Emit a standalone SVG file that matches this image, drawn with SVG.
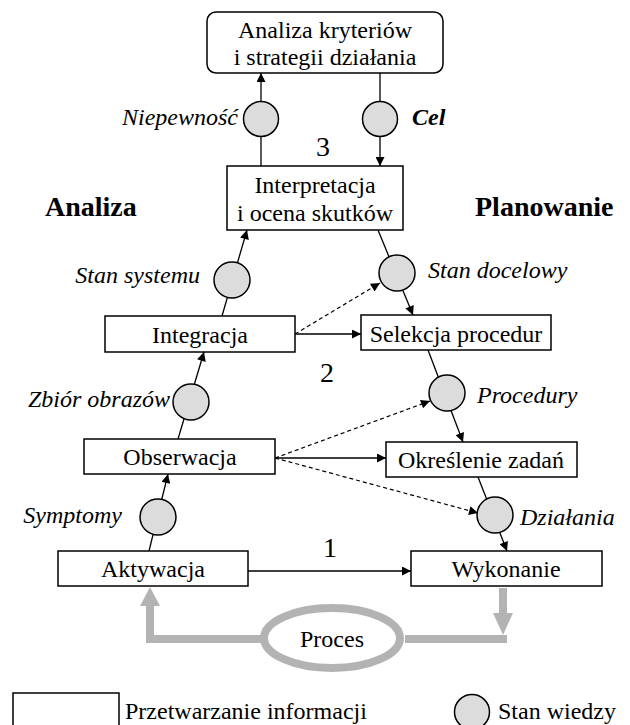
<svg xmlns="http://www.w3.org/2000/svg" width="630" height="725" viewBox="0 0 630 725" font-family="Liberation Serif" font-size="24">
  <style>
    .box { fill: #ffffff; stroke: #000000; stroke-width: 1.5; }
    .state { fill: #dcdcdc; stroke: #000000; stroke-width: 1.5; }
    .mid { text-anchor: middle; }
    .it { font-style: italic; }
    .bold { font-weight: bold; }
    .num { font-size: 28px; }
    .head { font-size: 28px; font-weight: bold; }
    .edge { fill: none; stroke: #000000; stroke-width: 1.3; }
    .dash { fill: none; stroke: #000000; stroke-width: 1.2; stroke-dasharray: 4 3; }
    .flow { fill: none; stroke: #b3b3b3; stroke-width: 8; }
    .flowhead { fill: #b3b3b3; }
  </style>
  <defs>
    <marker id="arrow" viewBox="0 0 10 10" refX="10" refY="5" markerWidth="11" markerHeight="9" markerUnits="userSpaceOnUse" orient="auto">
      <path d="M0,0 L10,5 L0,10 Z" fill="#000000"/>
    </marker>
  </defs>

  <!-- connectors (drawn first so the state circles sit on top) -->
  <g id="connectors">
    <!-- level 3 -->
    <line class="edge" x1="261" y1="166" x2="261" y2="73" marker-end="url(#arrow)"/>
    <line class="edge" x1="380" y1="73" x2="380" y2="166" marker-end="url(#arrow)"/>
    <!-- analysis side -->
    <line class="edge" x1="222" y1="316" x2="247" y2="230" marker-end="url(#arrow)"/>
    <line class="edge" x1="178" y1="439" x2="204" y2="352" marker-end="url(#arrow)"/>
    <line class="edge" x1="149" y1="551" x2="168" y2="474" marker-end="url(#arrow)"/>
    <!-- planning side -->
    <line class="edge" x1="378" y1="230" x2="413" y2="315" marker-end="url(#arrow)"/>
    <line class="edge" x1="428" y1="350" x2="463" y2="442" marker-end="url(#arrow)"/>
    <line class="edge" x1="478" y1="477" x2="507" y2="551" marker-end="url(#arrow)"/>
    <!-- shortcuts -->
    <line class="edge" x1="295" y1="334" x2="361" y2="334" marker-end="url(#arrow)"/>
    <line class="dash" x1="295" y1="334" x2="380" y2="283" marker-end="url(#arrow)"/>
    <line class="edge" x1="275" y1="458" x2="386" y2="458" marker-end="url(#arrow)"/>
    <line class="dash" x1="275" y1="458" x2="430" y2="401" marker-end="url(#arrow)"/>
    <line class="dash" x1="275" y1="458" x2="478" y2="513" marker-end="url(#arrow)"/>
    <line class="edge" x1="248" y1="571" x2="411" y2="571" marker-end="url(#arrow)"/>
    <!-- process loop -->
    <polyline class="flow" points="264,639 150,639 150,604"/>
    <polygon class="flowhead" points="140,606 160,606 150,587"/>
    <polyline class="flow" points="405,639 507,639"/>
    <polyline class="flow" points="503,588 503,614"/>
    <polygon class="flowhead" points="493,613 513,613 503,635"/>
  </g>

  <!-- processing nodes -->
  <g id="analiza-kryteriow">
    <rect class="box" x="207" y="12" width="236" height="61" rx="9"/>
    <text class="mid" x="325" y="38">Analiza kryteriów</text>
    <text class="mid" x="325" y="65">i strategii działania</text>
  </g>
  <g id="interpretacja">
    <rect class="box" x="227" y="166" width="176" height="64"/>
    <text class="mid" x="315" y="193">Interpretacja</text>
    <text class="mid" x="315" y="221">i ocena skutków</text>
  </g>
  <g id="integracja">
    <rect class="box" x="105" y="316" width="190" height="36"/>
    <text class="mid" x="200" y="343">Integracja</text>
  </g>
  <g id="selekcja">
    <rect class="box" x="361" y="315" width="190" height="35"/>
    <text class="mid" x="456" y="342">Selekcja procedur</text>
  </g>
  <g id="obserwacja">
    <rect class="box" x="84" y="439" width="191" height="35"/>
    <text class="mid" x="180" y="465">Obserwacja</text>
  </g>
  <g id="okreslenie">
    <rect class="box" x="386" y="442" width="191" height="35"/>
    <text class="mid" x="481" y="468">Określenie zadań</text>
  </g>
  <g id="aktywacja">
    <rect class="box" x="58" y="551" width="190" height="35"/>
    <text class="mid" x="153" y="577">Aktywacja</text>
  </g>
  <g id="wykonanie">
    <rect class="box" x="411" y="551" width="191" height="35"/>
    <text class="mid" x="506" y="577">Wykonanie</text>
  </g>
  <g id="proces">
    <ellipse cx="332" cy="638" rx="68" ry="30" fill="#ffffff" stroke="#b3b3b3" stroke-width="8"/>
    <text class="mid" x="332" y="647">Proces</text>
  </g>

  <!-- knowledge states -->
  <g id="niepewnosc">
    <circle class="state" cx="261" cy="119" r="17.5"/>
    <text class="it" x="238" y="125" text-anchor="end">Niepewność</text>
  </g>
  <g id="cel">
    <circle class="state" cx="380" cy="119" r="17.5"/>
    <text class="it bold" x="412" y="125">Cel</text>
  </g>
  <g id="stan-systemu">
    <circle class="state" cx="232" cy="280" r="18"/>
    <text class="it" x="200" y="283" text-anchor="end">Stan systemu</text>
  </g>
  <g id="zbior-obrazow">
    <circle class="state" cx="191" cy="402" r="18"/>
    <text class="it" x="170" y="407" text-anchor="end">Zbiór obrazów</text>
  </g>
  <g id="symptomy">
    <circle class="state" cx="158" cy="517" r="18"/>
    <text class="it" x="122" y="523" text-anchor="end">Symptomy</text>
  </g>
  <g id="stan-docelowy">
    <circle class="state" cx="397" cy="273" r="18"/>
    <text class="it" x="428" y="278">Stan docelowy</text>
  </g>
  <g id="procedury">
    <circle class="state" cx="447" cy="393" r="18"/>
    <text class="it" x="477" y="403">Procedury</text>
  </g>
  <g id="dzialania">
    <circle class="state" cx="495" cy="515" r="18"/>
    <text class="it" x="520" y="525">Działania</text>
  </g>

  <!-- section titles and level numbers -->
  <text class="head" x="45" y="216">Analiza</text>
  <text class="head" x="475" y="216">Planowanie</text>
  <text class="num mid" x="323" y="156">3</text>
  <text class="num mid" x="327" y="382">2</text>
  <text class="num mid" x="330" y="557">1</text>

  <!-- legend -->
  <g id="legend">
    <rect class="box" x="13" y="693" width="106" height="40"/>
    <text x="125" y="719">Przetwarzanie informacji</text>
    <circle class="state" cx="472" cy="712" r="17.5"/>
    <text x="498" y="719">Stan wiedzy</text>
  </g>
</svg>
